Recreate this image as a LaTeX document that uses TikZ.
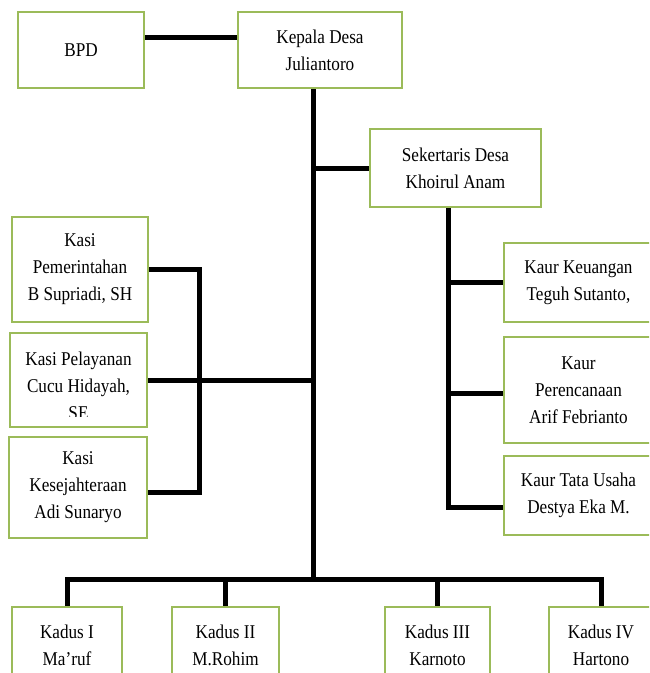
\documentclass[tikz,border=0pt]{standalone}
\usepackage{fontspec}
\setmainfont[FakeStretch=0.88]{Liberation Serif}
\usetikzlibrary{positioning}
\definecolor{hijau}{RGB}{155,187,89}
\tikzset{
	jabatan/.style={draw=hijau, line width=2.5pt, fill=white, align=center, inner sep=0pt, font=\fontsize{19.5}{27}\selectfont},
	garis/.style={line width=5pt, line join=miter}
}
\begin{document}
\begin{tikzpicture}[x=1pt, y=-1pt]
				\clip (0,0) rectangle (649,673);
				\node (bpd) [jabatan, minimum width=126, minimum height=76] at (81,50) {BPD};
				\node (kades) [jabatan, minimum width=164, minimum height=76] at (320,50) {Kepala Desa\\Juliantoro};
				\node (sekdes) [jabatan, minimum width=171, minimum height=78] at (455.5,168) {Sekertaris Desa\\Khoirul Anam};
				\node (kasipem) [jabatan, minimum width=136, minimum height=105] at (80,269.5) {Kasi\\Pemerintahan\\B Supriadi, SH};
				\node (kasipel) [jabatan, minimum width=137, minimum height=94] at (78.5,380) {};
				\node (kasikes) [jabatan, minimum width=138, minimum height=101] at (78,487.5) {Kasi\\Kesejahteraan\\Adi Sunaryo};
				\node (kaurkeu) [jabatan, minimum width=149, minimum height=79] at (578.5,282.5) {Kaur Keuangan\\Teguh Sutanto,};
				\node (kaurren) [jabatan, minimum width=149, minimum height=106] at (578.5,390) {Kaur\\Perencanaan\\Arif Febrianto};
				\node (kaurtu) [jabatan, minimum width=149, minimum height=79] at (578.5,495.5) {Kaur Tata Usaha\\Destya Eka M.};
				\node (kadus1) [jabatan, minimum width=110, minimum height=76] at (67,645) {Kadus I\\Ma’ruf};
				\node (kadus2) [jabatan, minimum width=107, minimum height=76] at (225.5,645) {Kadus II\\M.Rohim};
				\node (kadus3) [jabatan, minimum width=105, minimum height=76] at (437.5,645) {Kadus III\\Karnoto};
				\node (kadus4) [jabatan, minimum width=104, minimum height=76] at (601,645) {Kadus IV\\Hartono};
				
				\begin{scope}
					\clip (12,340) rectangle (145,416);
					\node (teks) [jabatan, draw=none, fill=none] at (78.5,386) {Kasi Pelayanan\\Cucu Hidayah,\\SE};
				\end{scope}
				
				\coordinate (trunk) at (313,579);
				\coordinate (sekx) at (448,0);
				\coordinate (kasix) at (199,0);
				
				\draw[garis] (bpd.east |- 0,37) -- (kades.west |- 0,37);
				\draw[garis] (kades.south -| trunk) -- (trunk);
				\draw[garis] (sekdes.west) -- (sekdes.west -| trunk);
				\draw[garis] (sekdes.south -| sekx) -- (sekx |- 0,507) -- (kaurtu.west |- 0,507);
				\draw[garis] (sekx |- kaurkeu.west) -- (kaurkeu.west);
				\draw[garis] (sekx |- 0,393) -- (kaurren.west |- 0,393);
				\draw[garis] (kasipem.east) -- (kasix |- kasipem.east) -- (kasix |- 0,492) -- (kasikes.east |- 0,492);
				\draw[garis] (kasipel.east) -- (kasipel.east -| trunk);
				\draw[garis] (kadus1.north) |- (trunk) -| (kadus4.north);
				\draw[garis] (kadus2.north) -- (kadus2.north |- trunk);
				\draw[garis] (kadus3.north) -- (kadus3.north |- trunk);
			\end{tikzpicture}
\end{document}
